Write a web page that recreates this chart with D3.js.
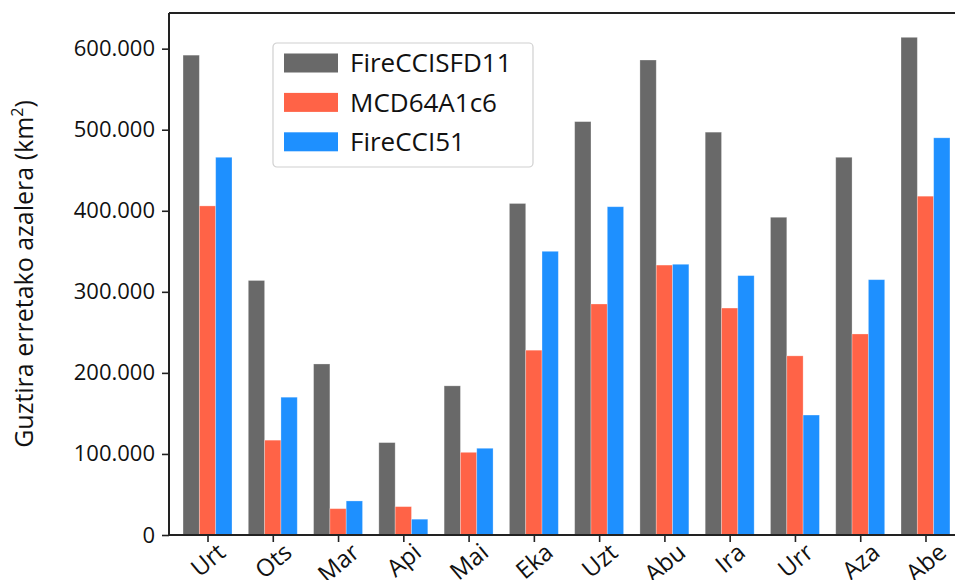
<!DOCTYPE html>
<meta charset="utf-8">
<script src="https://d3js.org/d3.v7.min.js"></script>
<style>
  body { margin: 0; background: #fff; }
  text { font-family: "Open Sans", sans-serif; fill: #111; }
</style>
<svg width="955" height="580"></svg>
<script>
// months (Basque) and the three burned-area products, km2
var months = ["Urt", "Ots", "Mar", "Api", "Mai", "Eka", "Uzt", "Abu", "Ira", "Urr", "Aza", "Abe"];
var seriesNames = ["FireCCISFD11", "MCD64A1c6", "FireCCI51"];
var fireCCISFD11 = [592000, 314000, 211000, 114000, 184000, 409000, 510000, 586000, 497000, 392000, 466000, 614000];
var mcd64A1c6   = [406000, 117000, 32500, 35000, 102000, 228000, 285000, 333000, 280000, 221000, 248000, 418000];
var fireCCI51   = [466000, 170000, 42000, 19500, 107000, 350000, 405000, 334000, 320000, 148000, 315000, 490000];
var yTicks = [0, 100000, 200000, 300000, 400000, 500000, 600000];
var colors = ["#696969", "#ff6347", "#1e90ff"];

var series = [fireCCISFD11, mcd64A1c6, fireCCI51];

var svg = d3.select("svg");
var mLeft = 169, mTop = 13, mBottom = 535, mRight = 964;

var x = d3.scaleLinear().domain([-0.59, 11.59]).range([mLeft, mRight]);
var y = d3.scaleLinear().domain([0, 644000]).range([mBottom, mTop]);
var barW = 0.25;

var fmt = function(d) { return d3.format(",")(d).replace(/,/g, "."); };

// bars
series.forEach(function(vals, k) {
  svg.append("g")
    .selectAll("rect")
    .data(vals)
    .enter().append("rect")
      .attr("x", function(d, i) { return x(i + (k - 1.5) * barW); })
      .attr("width", x(barW) - x(0))
      .attr("y", function(d) { return y(d); })
      .attr("height", function(d) { return y(0) - y(d); })
      .style("fill", colors[k])
      .style("stroke", "#fff")
      .style("stroke-opacity", 0.35)
      .style("stroke-width", 0.8);
});

// y axis
var yAxis = d3.axisLeft(y).tickValues(yTicks).tickSize(7).tickPadding(7).tickFormat(fmt);
var gy = svg.append("g").attr("transform", "translate(" + mLeft + ",0)").call(yAxis);
gy.select(".domain").remove();
gy.attr("font-family", null).attr("font-size", null);
gy.selectAll("line").style("stroke", "#222").style("stroke-width", 1.6);
gy.selectAll("text").style("font-size", "22px").style("fill", "#111");

// x axis, labels turned 40 degrees and centred under the tick
var rot = 40 * Math.PI / 180;
var xAxis = d3.axisBottom(x).tickValues(d3.range(months.length)).tickSize(7).tickFormat(function(i) { return months[i]; });
var gx = svg.append("g").attr("transform", "translate(0," + mBottom + ")").call(xAxis);
gx.select(".domain").remove();
gx.attr("font-family", null).attr("font-size", null);
gx.selectAll("line").style("stroke", "#222").style("stroke-width", 1.6);
gx.selectAll("text")
  .style("font-size", "24px").style("fill", "#111")
  .attr("text-anchor", "middle")
  .attr("dy", "0.35em")
  .attr("y", 0)
  .attr("transform", function() {
    var w = this.getComputedTextLength(), h = 17;
    var off = 7 + (w * Math.sin(rot) + h * Math.cos(rot)) / 2;
    return "translate(0," + off + ") rotate(-40)";
  });

// spines
[[mLeft, mTop, mLeft, mBottom], [mLeft, mTop, mRight, mTop], [mLeft, mBottom, mRight, mBottom], [mRight, mTop, mRight, mBottom]]
  .forEach(function(s) {
    svg.append("line").attr("x1", s[0]).attr("y1", s[1]).attr("x2", s[2]).attr("y2", s[3])
      .style("stroke", "#222").style("stroke-width", 2);
  });

// y label
svg.append("text")
  .attr("transform", "translate(33," + ((mTop + mBottom) / 2 - 0) + ") rotate(-90)")
  .attr("text-anchor", "middle")
  .style("font-size", "25px")
  .html("Guztira erretako azalera (km<tspan dy='-10' font-size='16px'>2</tspan><tspan dy='10'>)</tspan>");

// legend
var lg = svg.append("g").attr("transform", "translate(273,43)");
lg.append("rect").attr("width", 260).attr("height", 124).attr("rx", 4)
  .style("fill", "#fff").style("fill-opacity", 0.85).style("stroke", "#d0d0d0").style("stroke-width", 1.2);
seriesNames.forEach(function(name, k) {
  var cy = 20 + k * 39.4;
  lg.append("rect").attr("x", 11).attr("y", cy - 9.5).attr("width", 54).attr("height", 19)
    .style("fill", colors[k]);
  lg.append("text").attr("x", 77).attr("y", cy).attr("dy", "0.35em")
    .style("font-size", "26px").text(name);
});
</script>
